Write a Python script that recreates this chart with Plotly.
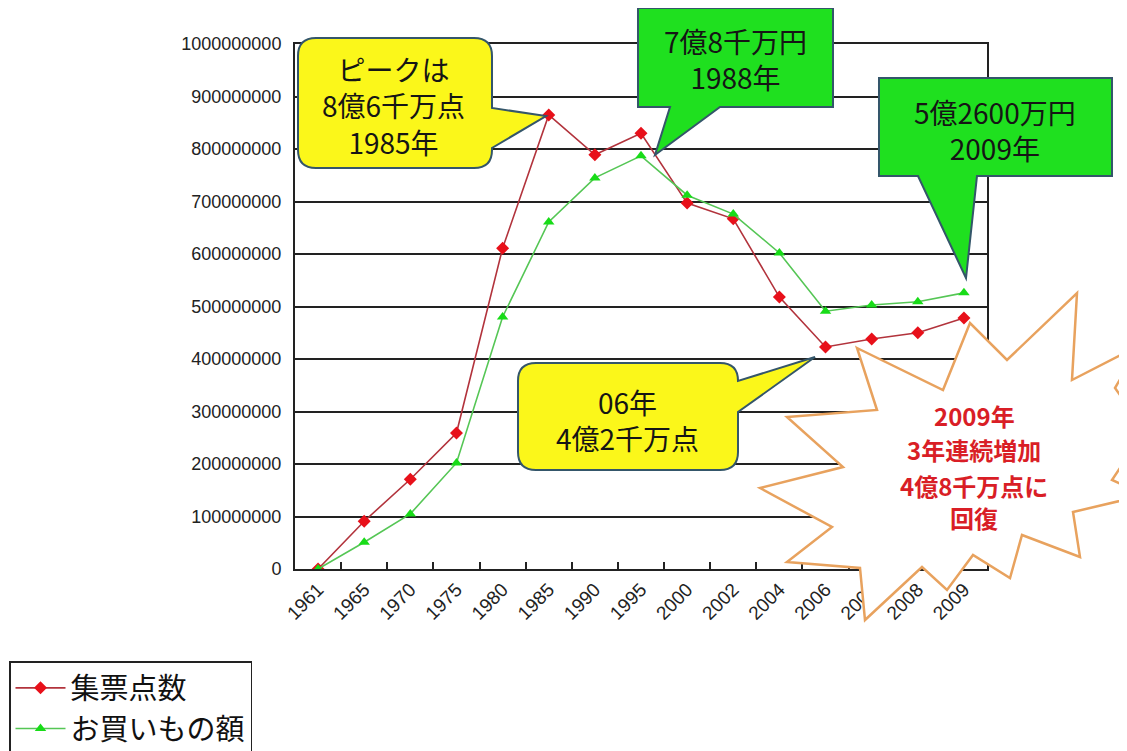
import plotly.graph_objects as go

# ---------------- data ----------------
years = ["1961", "1965", "1970", "1975", "1980", "1985", "1990", "1995",
         "2000", "2002", "2004", "2006", "2007", "2008", "2009"]
points_total = [0, 91e6, 171e6, 259e6, 611e6, 865e6, 789e6, 830e6,
                697e6, 667e6, 518e6, 423e6, 438e6, 450e6, 478e6]
shopping_total = [0, 51e6, 105e6, 202e6, 480e6, 661e6, 745e6, 787e6,
                  712e6, 676e6, 602e6, 491e6, 503e6, 509e6, 526e6]
series_names = ["集票点数", "お買いもの額"]
y_ticks = [0, 1e8, 2e8, 3e8, 4e8, 5e8, 6e8, 7e8, 8e8, 9e8, 1e9]

callout_peak = ["ピークは", "8億6千万点", "1985年"]
callout_1988 = ["7億8千万円", "1988年"]
callout_2009 = ["5億2600万円", "2009年"]
callout_06 = ["06年", "4億2千万点"]
burst_text = ["2009年", "3年連続増加", "4億8千万点に", "回復"]

# ---------------- layout geometry (page pixels) ----------------
OFF = 8                      # page body margin
W, H = 1127 - OFF, 751 - OFF
PL, PR, PT, PB = 295, 987, 44, 569   # plot area in page pixels


def P(px, py):
    return ((px - PL) / (PR - PL), (PB - py) / (PB - PT))


def fmt(px, py):
    x, y = P(px, py)
    return f"{x:.5f},{y:.5f}"


def rounded_callout(L, T, R, B, r, edge, b1, b2, tip):
    """Rounded rectangle with a pointer on 'right' or 'bottom' edge."""
    s = [f"M{fmt(L + r, T)}", f"L{fmt(R - r, T)}", f"Q{fmt(R, T)} {fmt(R, T + r)}"]
    if edge == "right":
        s += [f"L{fmt(R, b1)}", f"L{fmt(*tip)}", f"L{fmt(R, b2)}"]
    s += [f"L{fmt(R, B - r)}", f"Q{fmt(R, B)} {fmt(R - r, B)}"]
    if edge == "bottom":
        s += [f"L{fmt(b2, B)}", f"L{fmt(*tip)}", f"L{fmt(b1, B)}"]
    s += [f"L{fmt(L + r, B)}", f"Q{fmt(L, B)} {fmt(L, B - r)}",
          f"L{fmt(L, T + r)}", f"Q{fmt(L, T)} {fmt(L + r, T)}", "Z"]
    return " ".join(s)


def poly(pts):
    return "M" + " L".join(fmt(x, y) for x, y in pts) + " Z"


burst_pts = [(857, 348), (943, 390), (970, 323), (1007, 360), (1077, 293),
             (1072, 380), (1140, 345), (1115, 388), (1145, 430), (1112, 480),
             (1145, 495), (1073, 512), (1080, 557), (1022, 535), (1010, 578),
             (973, 555), (947, 590), (922, 567), (865, 620), (860, 568),
             (787, 562), (832, 527), (760, 488), (843, 467), (787, 417),
             (877, 410)]

YELLOW = "#fbf71a"
GREEN = "#1fe01f"
EDGE = "#34566a"
JP = "Noto Sans CJK JP"

fig = go.Figure()
fig.add_trace(go.Scatter(
    x=years, y=points_total, name=series_names[0], mode="lines+markers",
    line=dict(color="#b2333c", width=1.6),
    marker=dict(symbol="diamond", size=10, color="#e8101a"),
))
fig.add_trace(go.Scatter(
    x=years, y=shopping_total, name=series_names[1], mode="lines+markers",
    line=dict(color="#55c655", width=1.6),
    marker=dict(symbol="triangle-up", size=10, color="#18dc18"),
))

shapes = [
    dict(type="path", xref="paper", yref="paper", layer="above",
         path=rounded_callout(298, 38, 492, 168, 18, "right", 108, 148, (546, 116)),
         fillcolor=YELLOW, line=dict(color=EDGE, width=2)),
    dict(type="path", xref="paper", yref="paper", layer="above",
         path=rounded_callout(638, 8, 833, 107, 0, "bottom", 670, 720, (655, 155)),
         fillcolor=GREEN, line=dict(color=EDGE, width=2)),
    dict(type="path", xref="paper", yref="paper", layer="above",
         path=rounded_callout(879, 78, 1112, 176, 0, "bottom", 918, 977, (966, 278)),
         fillcolor=GREEN, line=dict(color=EDGE, width=2)),
    dict(type="path", xref="paper", yref="paper", layer="above",
         path=rounded_callout(518, 363, 738, 470, 18, "right", 381, 412, (815, 357)),
         fillcolor=YELLOW, line=dict(color=EDGE, width=2)),
    dict(type="path", xref="paper", yref="paper", layer="above",
         path=poly(burst_pts), fillcolor="white",
         line=dict(color="#e8a25e", width=2.5)),
]

annotations = []


def add_block(lines, cx, cy, size, color):
    x, y = P(cx, cy)
    annotations.append(dict(
        x=x, y=y, xref="paper", yref="paper", showarrow=False,
        text="<br>".join(lines), align="center", borderpad=0,
        font=dict(family=JP, size=size, color=color),
        xanchor="center", yanchor="middle"))


def add_lines(lines, cx, ys, size, color, bold=False):
    for t, yy in zip(lines, ys):
        x, y = P(cx, yy)
        annotations.append(dict(
            x=x, y=y, xref="paper", yref="paper", showarrow=False,
            text=f"<b>{t}</b>" if bold else t, borderpad=0,
            font=dict(family=JP, size=size, color=color),
            xanchor="center", yanchor="middle"))


add_block(callout_peak, 393, 105, 28, "#151515")
add_block(callout_1988, 735, 59, 28, "#151515")
add_block(callout_2009, 995, 130, 28, "#151515")
add_block(callout_06, 627, 420, 28, "#151515")
add_lines(burst_text, 974, [415, 449, 485, 518], 24, "#d91e26", bold=True)

lx, ly = P(9, 661)

fig.update_layout(
    width=W, height=H,
    margin=dict(l=PL - OFF, r=W - (PR - OFF), t=PT - OFF, b=H - (PB - OFF),
                autoexpand=False),
    paper_bgcolor="white", plot_bgcolor="white",
    font=dict(family="Liberation Sans, Arial, sans-serif", color="#222"),
    shapes=shapes, annotations=annotations,
    showlegend=True,
    legend=dict(x=lx, y=ly, xanchor="left", yanchor="top",
                bordercolor="#222", borderwidth=1.5, bgcolor="white",
                font=dict(family=JP, size=29, color="#111"),
                tracegroupgap=0, itemwidth=50),
    xaxis=dict(type="category", range=[-0.5, len(years) - 0.5],
               tickson="boundaries", ticks="inside", ticklen=7,
               tickcolor="#222", tickwidth=1.5,
               showline=True, linecolor="#222", linewidth=2, mirror=True,
               showgrid=False, tickangle=-45,
               tickfont=dict(size=19, color="#222")),
    yaxis=dict(range=[0, 1e9], tickvals=y_ticks, tickformat="d",
               showline=True, linecolor="#222", linewidth=2, mirror=True,
               showgrid=True, gridcolor="#222", gridwidth=1.5,
               zeroline=False, ticks="", ticklen=0, ticklabelstandoff=8,
               tickfont=dict(size=18, color="#222")),
)

fig.write_html("out.html")
